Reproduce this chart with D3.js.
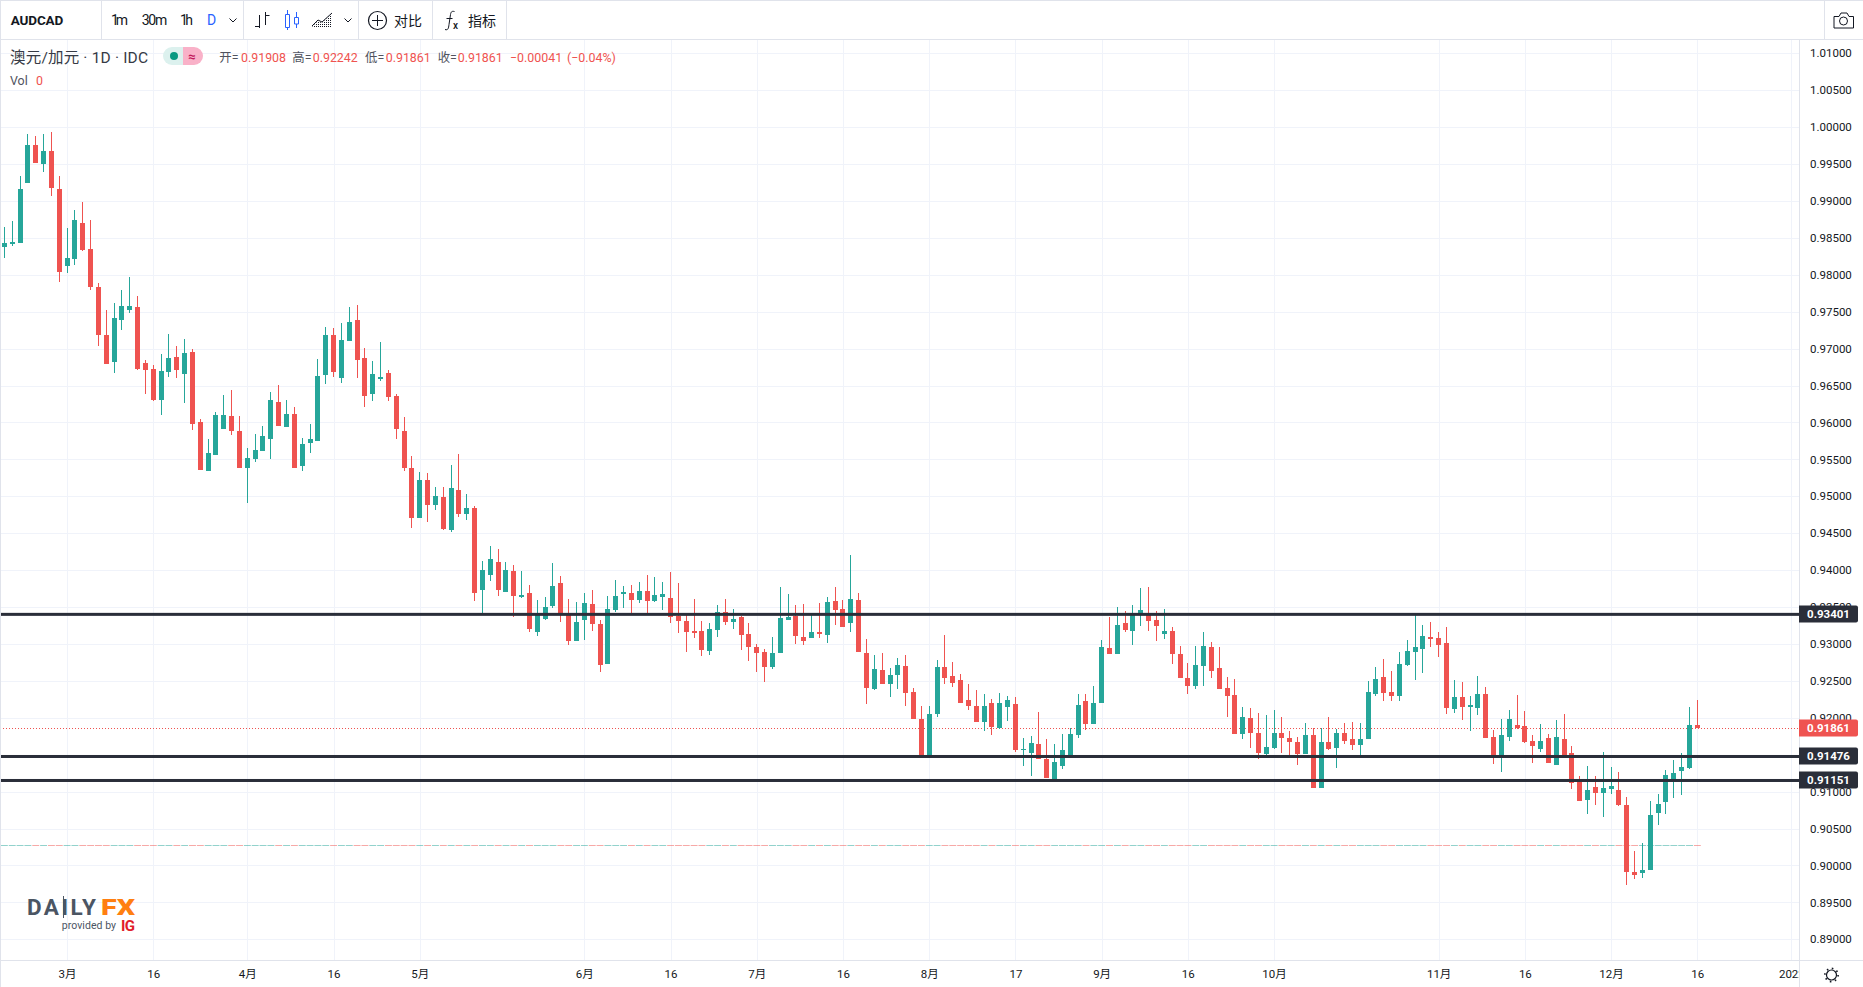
<!DOCTYPE html>
<html><head><meta charset="utf-8">
<script src="https://d3js.org/d3.v7.min.js"></script>
<style>
html,body{margin:0;padding:0;background:#fff;overflow:hidden}
svg{display:block;font-family:Roboto,"Noto Sans CJK SC",sans-serif}
</style></head><body><svg id="c" width="1863" height="987"></svg>
<script>
const opens=[.98379,.98419,.98433,.99246,.99760,.99503,.99679,.99164,.98121,.98216,
.98704,.98352,.97837,.97187,.96821,.97390,.97525,.97566,.96808,.96726,
.96306,.96686,.96889,.96659,.96957,.96008,.95345,.95561,.95914,.96090,
.95887,.95385,.95507,.95616,.95778,.96279,.95941,.96117,.95412,.95724,
.95751,.96645,.97187,.96604,.97106,.97390,.96875,.96388,.96591,.96672,
.96361,.95887,.95385,.94708,.95223,.94884,.94993,.94546,.95087,.94762,
.94844,.93733,.93936,.94112,.93706,.93990,.93638,.93692,.93164,.93340,
.93516,.93828,.93421,.93042,.93327,.93543,.93272,.92731,.93462,.93679,
.93692,.93597,.93719,.93584,.93638,.93624,.93381,.93313,.93178,.93178,
.92907,.93191,.93435,.93299,.93367,.93137,.92961,.92893,.92690,.92880,
.93327,.93381,.93096,.93083,.93164,.93123,.93584,.93476,.93286,.93597,
.92880,.92392,.92649,.92460,.92582,.92703,.92351,.91986,.91498,.92053,
.92690,.92568,.92514,.92243,.92162,.91945,.92202,.91864,.92148,.92189,
.91566,.91525,.91647,.91444,.91173,.91349,.91498,.91769,.92229,.91918,
.92202,.92947,.92866,.93286,.93178,.93394,.93394,.93327,.93137,.93178,
.92866,.92541,.92433,.92703,.92961,.92676,.92406,.92310,.91782,.91999,
.91796,.91512,.91593,.91796,.91728,.91674,.91512,.91769,.91051,.91674,
.91593,.91796,.91715,.91634,.91715,.92324,.92554,.92351,.92297,.92717,
.92893,.92934,.93096,.93083,.93015,.92121,.92284,.92148,.92134,.92324,
.91742,.91484,.91742,.91904,.91891,.91688,.91579,.91728,.91362,.91715,
.91525,.91132,.90888,.91065,.90983,.91038,.91024,.90821,.89913,.89900,
.89940,.90712,.90861,.91159,.91281,.91322,.91908];
const closes=[.98433,.98447,.99164,.99760,.99517,.99679,.99178,.98040,.98230,.98744,
.98338,.97837,.97187,.96794,.97417,.97580,.97580,.96726,.96713,.96306,
.96699,.96875,.96713,.96943,.95981,.95358,.95589,.96103,.96103,.95887,
.95385,.95521,.95629,.95819,.96306,.95954,.96117,.95385,.95710,.95778,
.96631,.97187,.96686,.97119,.97363,.96848,.96361,.96659,.96618,.96347,
.95914,.95385,.94708,.95223,.94884,.95006,.94559,.95114,.94762,.94844,
.93692,.94004,.94153,.93733,.94004,.93652,.93665,.93205,.93394,.93503,
.93787,.93394,.93042,.93299,.93557,.93272,.92717,.93476,.93652,.93706,
.93597,.93719,.93584,.93665,.93679,.93367,.93313,.93164,.93150,.92920,
.93205,.93435,.93299,.93340,.93123,.92961,.92880,.92690,.92880,.93354,
.93367,.93110,.93042,.93164,.93137,.93570,.93462,.93232,.93611,.92893,
.92406,.92663,.92460,.92582,.92717,.92338,.91986,.91498,.92053,.92690,
.92541,.92473,.92202,.92162,.91945,.92162,.91877,.92202,.92243,.91566,
.91579,.91661,.91444,.91186,.91403,.91566,.91782,.92175,.91918,.92202,
.92961,.92866,.93259,.93191,.93408,.93462,.93313,.93245,.93178,.92866,
.92541,.92433,.92717,.92974,.92636,.92392,.92297,.91782,.92013,.91796,
.91525,.91606,.91796,.91728,.91674,.91512,.91769,.91051,.91674,.91579,
.91796,.91688,.91634,.91715,.92351,.92527,.92338,.92297,.92731,.92907,
.92961,.93110,.93069,.92988,.92134,.92284,.92148,.92175,.92324,.91728,
.91471,.91769,.91986,.91864,.91674,.91620,.91688,.91390,.91742,.91498,
.91119,.90875,.91024,.90983,.91051,.91078,.90821,.89913,.89873,.89940,
.90685,.90834,.91227,.91254,.91335,.91904,.91861];
const highs=[.98645,.98726,.99340,.99909,.99882,.99909,.99936,.99340,.98636,.98880,
.98988,.98744,.97891,.97525,.97620,.97796,.97972,.97715,.96848,.96780,
.96929,.97200,.97038,.97133,.96997,.96049,.95778,.96144,.96374,.96442,
.96090,.95656,.95846,.95954,.96415,.96510,.96306,.96212,.95792,.95981,
.96862,.97295,.97282,.97349,.97566,.97593,.97011,.96835,.97092,.96713,
.96388,.96076,.95548,.95331,.95318,.95128,.95128,.95426,.95575,.95033,
.94871,.94126,.94329,.94288,.94112,.94072,.93990,.93801,.93597,.93638,
.94099,.93922,.93611,.93570,.93692,.93733,.93327,.93652,.93868,.93787,
.93801,.93841,.93936,.93909,.93841,.93977,.93828,.93421,.93611,.93313,
.93286,.93530,.93611,.93476,.93381,.93286,.93001,.92934,.93096,.93774,
.93679,.93530,.93543,.93394,.93557,.93638,.93774,.93597,.94207,.93692,
.93069,.92852,.92880,.92676,.92812,.92852,.92406,.92162,.92162,.92785,
.93123,.92758,.92595,.92460,.92378,.92324,.92256,.92338,.92297,.92284,
.91728,.91755,.92080,.91715,.91647,.91782,.91864,.92324,.92324,.92433,
.93056,.93367,.93503,.93448,.93530,.93760,.93774,.93448,.93476,.93232,
.92974,.92744,.92974,.93164,.93029,.92961,.92554,.92527,.92148,.92134,
.92067,.92040,.92107,.92013,.91823,.91742,.91931,.91864,.91864,.92013,
.91850,.91931,.91945,.91931,.92500,.92690,.92798,.92636,.92893,.93056,
.93394,.93259,.93299,.93164,.93232,.92514,.92487,.92297,.92568,.92419,
.91837,.91986,.92107,.92310,.92094,.91769,.91918,.91782,.91972,.92053,
.91620,.91214,.91349,.91214,.91539,.91335,.91268,.90929,.90198,.90306,
.90875,.90970,.91295,.91430,.91525,.92148,.92242];
const lows=[.98234,.98392,.98433,.99246,.99517,.99395,.99070,.97905,.98027,.98135,
.98325,.97796,.97038,.96794,.96672,.97255,.97485,.96713,.96388,.96293,
.96103,.96618,.96604,.96266,.95900,.95358,.95345,.95561,.95914,.95832,
.95385,.94911,.95467,.95616,.95507,.95954,.95941,.95385,.95345,.95589,
.95751,.96523,.96618,.96537,.97106,.96604,.96212,.96293,.96564,.96293,
.95778,.95345,.94573,.94708,.94654,.94816,.94546,.94518,.94722,.94681,
.93584,.93394,.93855,.93652,.93706,.93367,.93624,.93164,.93110,.93327,
.93489,.93299,.92988,.93042,.93056,.93178,.92622,.92731,.93435,.93489,
.93408,.93557,.93421,.93570,.93462,.93286,.93150,.92893,.93083,.92839,
.92852,.93096,.93259,.93205,.92920,.92771,.92622,.92487,.92663,.92880,
.93327,.93001,.92988,.93083,.93083,.93015,.93259,.93232,.93164,.92893,
.92189,.92378,.92460,.92284,.92392,.92162,.91986,.91471,.91498,.92013,
.92460,.92419,.92202,.92107,.91945,.91823,.91769,.91850,.91959,.91539,
.91349,.91214,.91444,.91186,.91146,.91308,.91484,.91728,.91837,.91918,
.92202,.92866,.92866,.93164,.92988,.93245,.93178,.93042,.93069,.92731,
.92541,.92324,.92392,.92433,.92541,.92392,.92013,.91782,.91715,.91593,
.91444,.91457,.91579,.91525,.91484,.91362,.91512,.91051,.91051,.91566,
.91322,.91647,.91566,.91498,.91715,.92297,.92229,.92229,.92229,.92703,
.92514,.92609,.92961,.92825,.92053,.92067,.91972,.91823,.92040,.91728,
.91376,.91268,.91688,.91850,.91661,.91390,.91539,.91390,.91362,.91484,
.91038,.90875,.90699,.90821,.90658,.90970,.90807,.89737,.89818,.89832,
.89940,.90550,.90699,.90916,.90956,.91308,.91861];
const priceTicks=[1.01,1.005,1,.995,.99,.985,.98,.975,.97,.965,.96,.955,.95,.945,.94,.935,.93,.925,.92,.915,.91,.905,.9,.895,.89];
const timeTickBars=[8,19,31,42,53,74,85,96,107,118,129,140,151,162,183,194,205,216,228];
const timeTickLabels=["3月","16","4月","16","5月","6月","16","7月","16","8月","17","9月","16","10月","11月","16","12月","16","2022"];
const levels=[.93401,.91476,.91151];
const lastPrice=.91861;
const volumeLevel=.90273;

const UP="#26a69a",DOWN="#ef5350",DARK="#2a2e39",GRID="#f0f3fa",BORDER="#e0e3eb",TXT="#131722";
const svg=d3.select("#c");
const W=1799,PT=39,PB=960;
const x=d3.scaleLinear().domain([0,216]).range([4.33,1697.3]);
const y=d3.scaleLinear().domain([1.01,.89]).range([53.3,939.3]);
const px=v=>Math.round(y(v));
const bars=opens.map((o,i)=>({i,o,h:highs[i],l:lows[i],c:closes[i],col:closes[i]>=o?UP:DOWN}));

// grid
const g=svg.append("g");
g.selectAll(".h").data(priceTicks).join("rect").attr("x",0).attr("width",W).attr("y",d=>px(d)).attr("height",1).attr("fill",GRID);
g.selectAll(".v").data(timeTickBars).join("rect").attr("y",PT).attr("height",PB-PT).attr("x",d=>Math.round(x(d))).attr("width",1).attr("fill",GRID);

// volume flat bars
svg.append("g").selectAll("rect").data(bars).join("rect")
 .attr("x",d=>x(d.i)-3.4).attr("width",6.9).attr("y",px(volumeLevel)).attr("height",1)
 .attr("fill",d=>d.col).attr("opacity",.5);

// last price dotted
svg.append("line").attr("x1",0).attr("x2",W).attr("y1",px(lastPrice)+.5).attr("y2",px(lastPrice)+.5)
 .attr("stroke",DOWN).attr("stroke-dasharray","1,2");

// candles
const cg=svg.append("g");
const bx=d=>Math.round(x(d.i)-2.5);
cg.selectAll(".w").data(bars).join("rect").attr("x",d=>bx(d)+2).attr("width",1)
 .attr("y",d=>px(d.h)).attr("height",d=>Math.max(1,px(d.l)-px(d.h))).attr("fill",d=>d.col);
cg.selectAll(".b").data(bars).join("rect").attr("x",bx).attr("width",5)
 .attr("y",d=>px(Math.max(d.o,d.c))).attr("height",d=>Math.max(1,px(Math.min(d.o,d.c))-px(Math.max(d.o,d.c))))
 .attr("fill",d=>d.col);

// horizontal levels
svg.append("g").selectAll("rect").data(levels).join("rect").attr("x",0).attr("width",W).attr("y",d=>y(d)-1.5).attr("height",3).attr("fill",DARK);

// chrome
svg.append("rect").attr("x",0).attr("y",0).attr("width",1863).attr("height",1).attr("fill",BORDER);
svg.append("rect").attr("x",0).attr("y",39).attr("width",1863).attr("height",1).attr("fill",BORDER);
svg.append("rect").attr("x",0).attr("y",0).attr("width",1).attr("height",987).attr("fill",BORDER);
svg.append("rect").attr("x",W).attr("y",39).attr("width",1).attr("height",948).attr("fill",BORDER);
svg.append("rect").attr("x",0).attr("y",PB).attr("width",1863).attr("height",1).attr("fill",BORDER);
[101,243,358,432,506,1824].forEach(v=>svg.append("rect").attr("x",v).attr("y",0).attr("width",1).attr("height",39).attr("fill",BORDER));

// axes
const yAxis=d3.axisRight(y).tickValues(priceTicks).tickFormat(d3.format(".5f")).tickSize(0).tickPadding(11);
const ya=svg.append("g").attr("transform",`translate(${W},0)`).call(yAxis);
ya.select(".domain").remove();
ya.selectAll("text").attr("font-size",11.5).attr("font-family",'Roboto,sans-serif').attr("fill",TXT);
svg.append("clipPath").attr("id","tc").append("rect").attr("x",0).attr("y",PB).attr("width",W).attr("height",30);
const xAxis=d3.axisBottom(x).tickValues(timeTickBars).tickFormat((d,i)=>timeTickLabels[i]).tickSize(0).tickPadding(10);
const xa=svg.append("g").attr("clip-path","url(#tc)").append("g").attr("transform",`translate(0,${PB})`).call(xAxis);
xa.select(".domain").remove();
xa.selectAll("text").attr("font-size",11.5).attr("font-family",'Roboto,"Noto Sans CJK SC",sans-serif').attr("fill",TXT);

// price labels
const labelData=levels.map(v=>({v,c:DARK})).concat([{v:lastPrice,c:DOWN}]);
const pl=svg.append("g").selectAll("g").data(labelData).join("g").attr("transform",d=>`translate(${W},${Math.round(y(d.v))})`);
pl.append("path").attr("d","M0,-8.5H57a2,2 0 0 1 2,2V6.5a2,2 0 0 1 -2,2H0Z").attr("fill",d=>d.c);
pl.append("text").attr("x",29.5).attr("y",4.3).attr("text-anchor","middle").attr("fill","#fff").attr("font-size",11.5).attr("font-weight",700).text(d=>d3.format(".5f")(d.v));

// text helper
const T=(s,a,b,o={})=>svg.append("text").attr("x",a).attr("y",b).attr("font-size",o.s||12).attr("fill",o.c||TXT).attr("font-weight",o.w||400).attr("text-anchor",o.a||"start").attr("letter-spacing",o.ls||null).attr("textLength",o.tl||null).attr("lengthAdjust",o.la||null).text(s);
const stroke=(d,c=TXT,w=1)=>svg.append("path").attr("d",d).attr("fill","none").attr("stroke",c).attr("stroke-width",w);

// toolbar
T("AUDCAD",10.7,25,{s:13.5,w:700,tl:52.6});
T("1m",111,25,{s:14,tl:17});T("30m",141.7,25,{s:14,tl:25.5});T("1h",180,25,{s:14,tl:13});T("D",207,25,{s:14,c:"#2962ff"});
stroke("M229.5,18.5l3.5,3.5l3.5,-3.5");stroke("M344.5,18.5l3.5,3.5l3.5,-3.5");
stroke("M259.5,15V28M255,26.5H259.5M265.5,12V25M265.5,15.5H269.5");
stroke("M287.5,10V14M287.5,27V30M296.5,12V17M296.5,24V28","#2962ff");
stroke("M285.5,14.5h4v13h-4zM294.5,17.5h4v6.5h-4z","#2962ff");
svg.append("defs").append("pattern").attr("id","hatch").attr("width",2).attr("height",2).attr("patternUnits","userSpaceOnUse")
 .append("rect").attr("width",1).attr("height",1).attr("fill",TXT);
svg.append("path").attr("d","M312,27L318,21L322,23L332,13V27Z").attr("fill","url(#hatch)");
stroke("M312,26L318,20L322,22L332,13");
svg.append("circle").attr("cx",377.5).attr("cy",20.5).attr("r",9).attr("fill","none").attr("stroke",TXT).attr("stroke-width",1.2);
stroke("M377.5,15V26M372,20.5H383");
T("对比",394,26,{s:14});
T("指标",468,26,{s:14});
stroke("M445,29.5c3,1 3.5,-1 4,-5l1.5,-10c.5,-3 1.5,-3.5 4,-3M446.5,18.5h6");
T("x",453,28.5,{s:10,w:500});

// legend
T("澳元/加元 · 1D · IDC",10,62.5,{s:15.5,c:"#363a45",tl:138});
svg.append("path").attr("d","M183,47h-11a9,9 0 0 0 0,18h11Z").attr("fill","#dcf1ee");
svg.append("path").attr("d","M183,47h11a9,9 0 0 1 0,18h-11Z").attr("fill","#f9b1c8");
svg.append("circle").attr("cx",174).attr("cy",56).attr("r",4).attr("fill","#089981");
T("≈",191.7,60.5,{s:13,c:"#c2185b",a:"middle",w:700});
const grey="#50535e",red=DOWN;
[["开=",219.3,grey],["0.91908",241,red],["高=",292.3,grey],["0.92242",312.7,red],["低=",365,grey],["0.91861",385.7,red],["收=",437.7,grey],["0.91861",457.7,red],["−0.00041",510,red],["(−0.04%)",567,red]]
 .forEach(d=>T(d[0],d[1],62,{s:12.4,c:d[2]}));
T("Vol",10,85,{s:12.4,c:grey});T("0",36,85,{s:12.4,c:red});

// logo
T("DAILY",27,915,{s:22.5,w:700,c:"#4b5563",tl:69});
svg.append("rect").attr("x",63).attr("y",896).attr("width",1).attr("height",22).attr("fill","#4b5563");
T("FX",101,915,{s:22.5,w:900,c:"#ff7f11",tl:34,la:"spacingAndGlyphs"});
T("provided by",61.7,929,{s:10.5,c:"#4b5563",tl:54.3});
T("IG",121,931,{s:15,w:700,c:"#e11d2a",tl:14});

// camera & gear
stroke("M1834,16.5h5l2,-3.5h6l2,3.5h4.5v11.5h-19.5z");
svg.append("circle").attr("cx",1843.5).attr("cy",21).attr("r",4).attr("fill","none").attr("stroke",TXT);
svg.append("circle").attr("cx",1831.5).attr("cy",975).attr("r",5).attr("fill","none").attr("stroke",TXT).attr("stroke-width",1.2);
svg.append("circle").attr("cx",1831.5).attr("cy",975).attr("r",6.6).attr("fill","none").attr("stroke",TXT).attr("stroke-width",1.6).attr("stroke-dasharray","1.6,3.6");
</script></body></html>
